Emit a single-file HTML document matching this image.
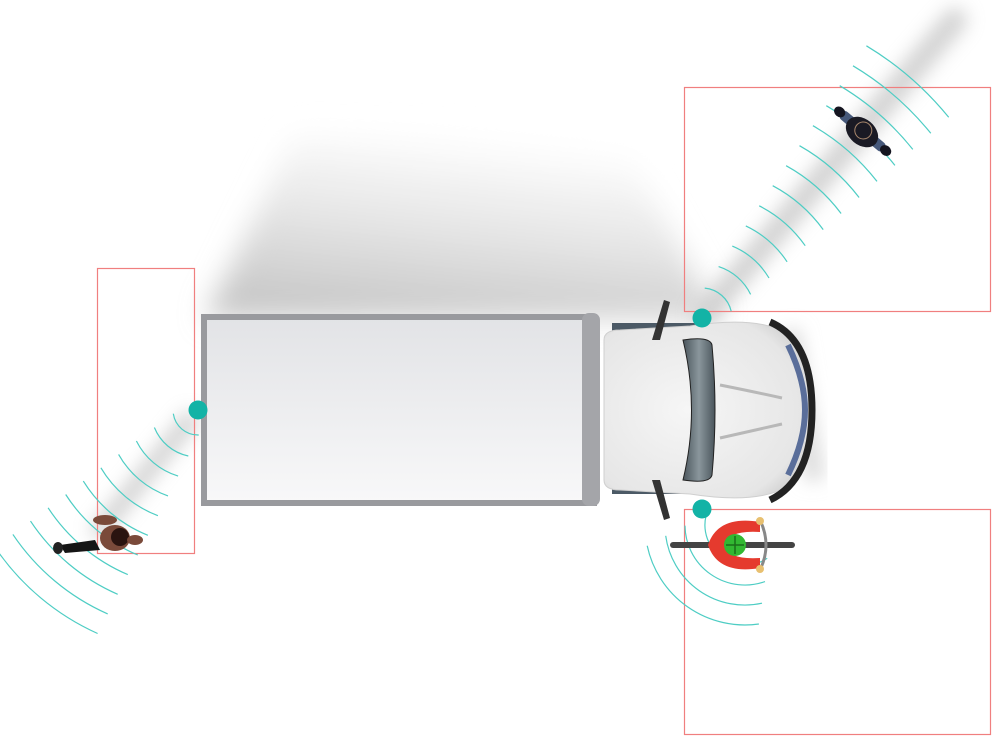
<!DOCTYPE html>
<html><head><meta charset="utf-8"><style>html,body{margin:0;padding:0;background:#fff}svg{display:block}</style></head>
<body>
<svg id="s" width="1000" height="747" viewBox="0 0 1000 747" xmlns="http://www.w3.org/2000/svg">
<defs>
<filter id="b20" x="-50%" y="-50%" width="200%" height="200%"><feGaussianBlur stdDeviation="14"/></filter>
<filter id="b8" x="-50%" y="-50%" width="200%" height="200%"><feGaussianBlur stdDeviation="9"/></filter>
<linearGradient id="sh" x1="0.2" y1="1" x2="0.5" y2="0"><stop offset="0" stop-color="#c4c4c4"/><stop offset="0.5" stop-color="#e4e4e4"/><stop offset="1" stop-color="#fff"/></linearGradient>
<linearGradient id="box" x1="0" y1="0" x2="0" y2="1"><stop offset="0" stop-color="#e2e3e6"/><stop offset="1" stop-color="#f8f8f9"/></linearGradient>
<linearGradient id="ws" x1="0" y1="0" x2="1" y2="0"><stop offset="0" stop-color="#4a555c"/><stop offset="0.5" stop-color="#8a969c"/><stop offset="1" stop-color="#4a555c"/></linearGradient>
<radialGradient id="hood" cx="0.4" cy="0.5" r="0.7"><stop offset="0" stop-color="#f6f6f6"/><stop offset="0.8" stop-color="#e6e6e6"/><stop offset="1" stop-color="#c8c8c8"/></radialGradient>
</defs>
<!-- truck shadow -->
<polygon points="205,318 295,135 620,140 720,318" fill="url(#sh)" filter="url(#b20)"/>
<!-- beams -->
<line x1="705" y1="315" x2="955" y2="20" stroke="#c8c8c8" stroke-width="24" filter="url(#b8)" stroke-linecap="round" opacity="0.8"/>
<line x1="190" y1="420" x2="100" y2="530" stroke="#c8c8c8" stroke-width="18" filter="url(#b8)" stroke-linecap="round" opacity="0.8"/>
<line x1="790" y1="330" x2="815" y2="480" stroke="#d8d8d8" stroke-width="18" filter="url(#b8)"/>
<!-- red zones -->
<g fill="none" stroke="#f07f7f" stroke-width="1.2">
<rect x="97.5" y="268.5" width="97" height="285"/>
<rect x="684.5" y="87.5" width="306" height="224"/>
<rect x="684.5" y="509.5" width="306" height="225"/>
</g>
<g id="arcs" fill="none" stroke="#4ecdc4" stroke-width="1.2"></g>
<!-- cargo box -->
<rect x="204" y="317" width="390" height="186" fill="url(#box)" stroke="#999a9e" stroke-width="6"/>
<rect x="582" y="313" width="18" height="193" rx="7" fill="#a4a5a9"/>
<!-- cab -->
<rect x="612" y="323" width="90" height="14" fill="#4c5a66"/>
<rect x="612" y="480" width="90" height="14" fill="#4c5a66"/>
<path d="M604,340 Q604,330 620,330 L690,326 Q760,315 790,335 Q812,370 812,410 Q812,450 790,485 Q760,505 690,494 L620,490 Q604,490 604,480 Z" fill="url(#hood)" stroke="#cfcfcf"/>
<path d="M770,322 Q812,340 812,410 Q812,480 770,500" fill="none" stroke="#222" stroke-width="7"/>
<path d="M788,345 Q805,380 805,410 Q805,440 788,475" fill="none" stroke="#5a6e9a" stroke-width="6"/>
<path d="M683,340 Q710,336 712,345 Q718,410 712,475 Q710,484 683,480 Q700,410 683,340 Z" fill="url(#ws)" stroke="#222" stroke-width="1"/>
<path d="M720,385 Q755,392 782,398" stroke="#b8b8b8" stroke-width="3" fill="none"/>
<path d="M720,438 Q755,430 782,424" stroke="#b8b8b8" stroke-width="3" fill="none"/>
<path d="M652,340 L664,300 L670,302 L660,340" fill="#333"/>
<path d="M652,480 L664,520 L670,518 L660,480" fill="#333"/>
<!-- sensors -->
<g fill="#13b3a6"><circle cx="198" cy="410" r="9.5"/><circle cx="702" cy="318" r="9.5"/><circle cx="702" cy="509" r="9.5"/></g>
<!-- person top-right -->
<g transform="translate(862,132) rotate(40)">
<rect x="-28" y="-6" width="22" height="10" rx="4" fill="#46587a"/>
<rect x="6" y="-6" width="22" height="10" rx="4" fill="#46587a"/>
<ellipse cx="-30" cy="-1" rx="6" ry="5" fill="#151520"/><ellipse cx="30" cy="-1" rx="6" ry="5" fill="#151520"/>
<ellipse cx="0" cy="0" rx="18" ry="13" fill="#1a1a24"/>
<circle cx="0" cy="-2" r="9" fill="#a8876c"/><circle cx="0" cy="-2" r="8" fill="#1a1a24"/>
</g>
<!-- person left -->
<g transform="translate(110,535)">
<path d="M-50,10 L-15,5 L-10,15 L-45,18 Z" fill="#151515"/>
<ellipse cx="-52" cy="13" rx="5" ry="6" fill="#222"/>
<ellipse cx="5" cy="3" rx="15" ry="13" fill="#7a4a3a"/>
<circle cx="10" cy="2" r="9" fill="#2a1410"/>
<ellipse cx="-5" cy="-15" rx="12" ry="5" fill="#7a4a3a"/>
<ellipse cx="25" cy="5" rx="8" ry="5" fill="#7a4a3a"/>
</g>
<!-- cyclist -->
<g>
<rect x="670" y="542" width="125" height="6" rx="3" fill="#444"/>
<path d="M760,522 Q718,515 708,545 Q718,575 760,568 L760,558 Q728,560 725,545 Q728,530 760,532 Z" fill="#e53a2e"/>
<circle cx="735" cy="545" r="11" fill="#32b832"/>
<path d="M726,545 H744 M735,536 V554" stroke="#1b6e1b" stroke-width="1.5"/>
<path d="M760,520 Q772,545 760,570" stroke="#888" stroke-width="3" fill="none"/>
<circle cx="760" cy="521" r="4" fill="#e8c070"/><circle cx="760" cy="569" r="4" fill="#e8c070"/>
</g>
</svg>
<script>
(function(){
var g=document.getElementById('arcs'),d='';
function arcs(cx,cy,ang,r0,r1,step,ca,cb){
 for(var r=r0;r<=r1;r+=step){
  var half=((ca+cb*r)/2)/r; var a=ang*Math.PI/180;
  var x1=cx+r*Math.cos(a-half),y1=cy+r*Math.sin(a-half),x2=cx+r*Math.cos(a+half),y2=cy+r*Math.sin(a+half);
  d+='M'+x1.toFixed(1)+','+y1.toFixed(1)+'A'+r+','+r+' 0 0 1 '+x2.toFixed(1)+','+y2.toFixed(1);
 }
}
arcs(702,318,-49,30,340,24,30,0.25);
arcs(198,410,130,25,245,22,25,0.45);
arcs(745,525,125,40,100,20,60,0.9);
var p=document.createElementNS('http://www.w3.org/2000/svg','path');p.setAttribute('d',d);g.appendChild(p);
})();
</script>
</body></html>
